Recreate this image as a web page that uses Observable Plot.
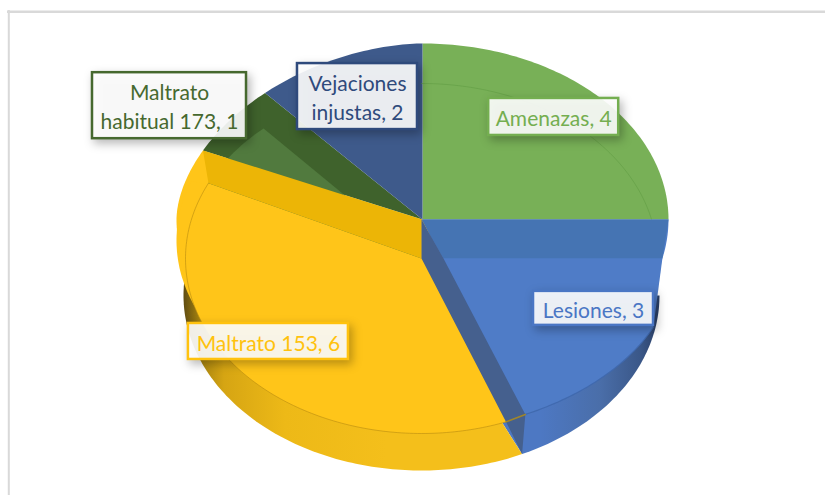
<!DOCTYPE html>
<html><head><meta charset="utf-8">
<script src="https://cdn.jsdelivr.net/npm/d3@7"></script>
<script src="https://cdn.jsdelivr.net/npm/@observablehq/plot@0.6"></script>
<style>html,body{margin:0;padding:0;background:#fff}svg{display:block}</style>
</head><body><div id="chart"></div>
<script>
// Data
const categories = ["Amenazas", "Lesiones", "Maltrato 153", "Maltrato habitual 173", "Vejaciones injustas"];
const values = [4, 3, 6, 1, 2];
const labelTexts = ["Amenazas, 4", "Lesiones, 3", "Maltrato 153, 6", "Maltrato\nhabitual 173, 1", "Vejaciones\ninjustas, 2"];

// Styles
const faceColors = ["#78b057", "#4f7cc7", "#ffc519", "#517a3e", "#3e5a8b"];
const backColors = ["#78b057", "#4574b3", "#ffc519", "#3f622c", "#3e5a8b"];
const labelColors = ["#74ae50", "#4a76c4", "#ffc20e", "#46692f", "#2f4a7c"];

// Layout of the tilted pie
const W = 825, H = 495;
const back   = {cx: 422, cy: 219, rx: 246, ry: 176, p: 1.8};
const face   = {cx: 421, cy: 258, rx: 236, ry: 175};
const floor  = {cx: 421, cy: 295, rx: 238, ry: 175};
const bulge  = {cx: 400, cy: 258, rx: 275, ry: 175};
const flange = {cx: 422, cy: 240, rx: 246, ry: 175};
const edgeNudge = [0, 0, 0, 3, 3, 0];
const labelReach = [[.76, .824], [.841, .909], [.88, .98], [1.232, 1.164], [.68, .756]];
const labelBox = [[130, 37], [120, 34], [160, 36], [154, 66], [120, 66]];

// Slice angles come from the values
const total = d3.sum(values);
const cum = d3.cumsum(values);
const edges = [0, ...cum].map((v, i) => v / total * 360 + edgeNudge[i]);

const pt = (e, a) => {
  const t = a * Math.PI / 180;
  let s = Math.sin(t), c = Math.cos(t);
  if (e.p && a > 270) {           // the upper-left shoulder is slightly flatter
    s = -Math.pow(-s, 2 / e.p);
    c = Math.pow(c, 2 / e.p);
  }
  return {x: e.cx + e.rx * s, y: e.cy - e.ry * c};
};
const arc = (e, a0, a1) => {
  const n = Math.max(2, Math.ceil(Math.abs(a1 - a0)));
  return d3.range(n + 1).map(i => pt(e, a0 + (a1 - a0) * i / n));
};
const wedge = (e, a0, a1) => [{x: e.cx, y: e.cy}, ...arc(e, a0, a1), {x: e.cx, y: e.cy}];
const poly = (pts, fill) => Plot.line(pts, {x: "x", y: "y", fill, stroke: "none", curve: "linear"});
const path = (pts, stroke, strokeWidth = 1, strokeOpacity = 1) =>
  Plot.line(pts, {x: "x", y: "y", stroke, strokeWidth, strokeOpacity, curve: "linear"});

const [a1, a2, a3, a4] = edges.slice(1);
const apex = {x: face.cx + 22, y: face.cy};

// Walls exposed by the tilted cuts
const blueWall = [
  {x: back.cx - 1, y: back.cy}, {x: face.cx, y: face.cy},
  pt(face, a2 + 1.5), pt(floor, a2 - 2.5), pt(bulge, 153),
  apex, {x: back.cx - 1, y: back.cy}
];
const blueBand = [
  {x: back.cx - 1, y: back.cy}, pt(back, 90), pt(back, 102.8), apex, {x: back.cx - 1, y: back.cy}
];
const blueFace = [apex, pt(back, 102.8), ...arc(bulge, 113.2, 153), apex];
const yellowWall = [
  pt(back, a3), {x: back.cx - 1, y: back.cy}, {x: face.cx, y: face.cy}, pt(face, a3), pt(back, a3)
];

// Labels
const mids = edges.slice(0, -1).map((_, i) => ([0, ...cum][i] + values[i] / 2) / total * 360);
const labels = categories.map((c, i) => {
  const t = mids[i] * Math.PI / 180;
  return {
    category: c,
    text: labelTexts[i],
    color: labelColors[i],
    x: back.cx - 1 + back.rx * Math.sin(t) * labelReach[i][0],
    y: back.cy - back.ry * Math.cos(t) * labelReach[i][1],
    w: labelBox[i][0], h: labelBox[i][1]
  };
});

const chart = Plot.plot({
  width: W, height: H,
  margin: 0,
  x: {domain: [0, W], range: [0, W], axis: null},
  y: {domain: [0, H], range: [0, H], axis: null},
  marks: [
    // frame
    Plot.ruleY([11.3], {x1: 7, x2: W, stroke: "#d9d9d9", strokeWidth: 2.5}),
    Plot.ruleX([8.3], {y1: 10, y2: H, stroke: "#d9d9d9", strokeWidth: 2}),
    // rim
    poly(wedge(floor, 90, a2 - 2.5), "url(#rimBlue)"),
    poly(wedge(floor, a2 - 2.5, 280), "url(#rimYellow)"),
    // back plane
    poly(wedge(back, 0, a1), backColors[0]),
    poly(wedge(back, a1, a2 + 4), faceColors[1]),
    poly(wedge(back, a2 + 4, a3), backColors[2]),
    poly(wedge(flange, 245, 290), backColors[2]),
    poly(wedge(back, a3, a4), backColors[3]),
    poly(wedge(back, a4, 360), backColors[4]),
    poly(blueBand, backColors[1]),
    // top faces
    poly(blueFace, faceColors[1]),
    poly(wedge(face, a2, a3), faceColors[2]),
    poly(wedge(face, a3, a4), faceColors[3]),
    // walls
    poly(yellowWall, "#ecb506"),
    poly(blueWall, "#45608e"),
    // bevel hairlines
    path(arc(face, 0, 77), "#5f9a42", 1, .55),
    path(arc(bulge, 113.2, 153), "#3f68ad", 1.2, .9),
    path(arc(face, a2 + 1.5, a3), "#b98c10", 1, .6),
    path([pt(face, a2 + 1.5), pt(bulge, 153)], "#a98a20", 1.5, .9),
    // labels
    Plot.rect(labels, {
      x1: d => d.x - d.w / 2, x2: d => d.x + d.w / 2,
      y1: d => d.y - d.h / 2, y2: d => d.y + d.h / 2,
      fill: "#fff", fillOpacity: .9, stroke: "color", strokeWidth: 2.5,
      imageFilter: "drop-shadow(3px 4px 5px rgba(0,0,0,.3))"
    }),
    Plot.text(labels, {
      x: "x", y: "y", text: "text", fill: "color",
      fontFamily: "Lato", fontSize: 21, lineHeight: 1.38
    })
  ]
});

// Gradients for the curved rim
const defs = d3.select(chart).insert("defs", ":first-child");
const grad = (id, stops) => {
  const g = defs.append("linearGradient").attr("id", id).attr("x1", 0).attr("x2", 1).attr("y1", 0).attr("y2", 0);
  stops.forEach(([o, c]) => g.append("stop").attr("offset", o).attr("stop-color", c));
};
grad("rimYellow", [[0, "#5f4c12"], [.05, "#a9850f"], [.12, "#d6a513"], [.3, "#edb917"], [.6, "#f4bf1b"], [1, "#f4bf1b"]]);
grad("rimBlue", [[0, "#4d78c3"], [.5, "#4d78c3"], [.75, "#4a6ea9"], [.92, "#3a5788"], [1, "#2a3f66"]]);

document.getElementById("chart").append(chart);
</script>
</body></html>
